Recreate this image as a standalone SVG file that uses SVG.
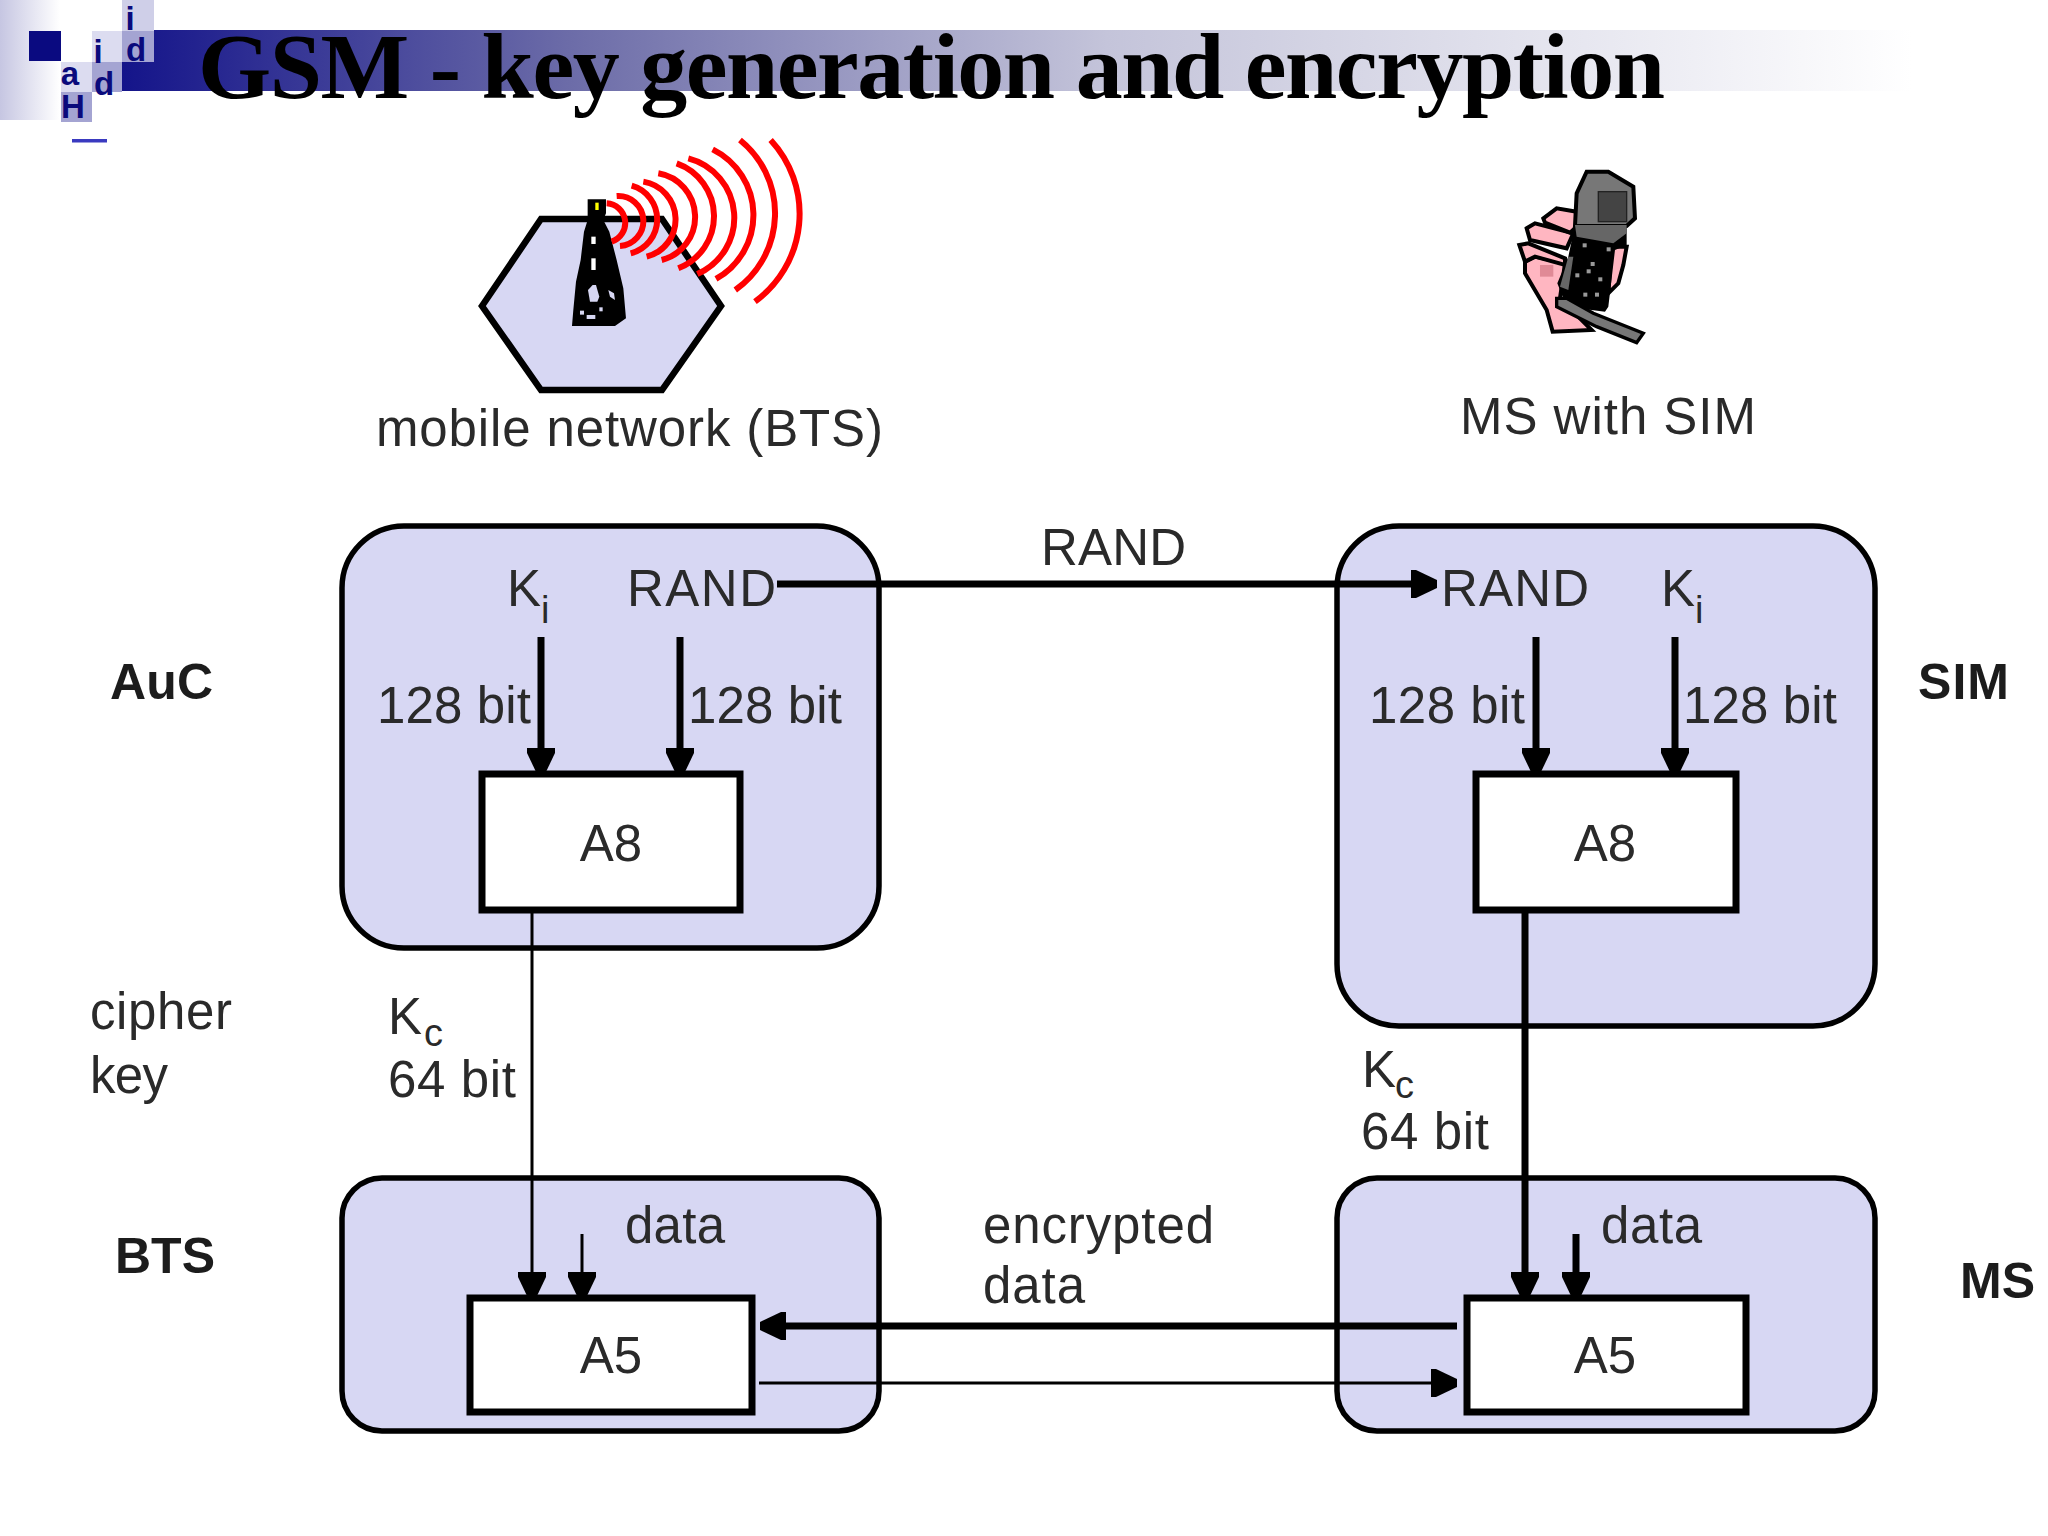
<svg xmlns="http://www.w3.org/2000/svg" width="2048" height="1536" viewBox="0 0 2048 1536">
<style>
text{font-family:"Liberation Sans",Arial,sans-serif;font-size:51px;fill:#2a2a2a}
.b{font-weight:bold;fill:#1c1c1c;font-size:50px}
.s{font-size:38px}
.c{text-anchor:middle}
.h{font-weight:bold;font-size:33px;fill:#0a0a7c;text-anchor:middle}
.box{fill:#d7d7f3;stroke:#000;stroke-width:5.5}
.alg{fill:#fff;stroke:#000;stroke-width:7}
.thick{stroke:#000;stroke-width:7;fill:none}
.thin{stroke:#000;stroke-width:3;fill:none}
.arc{stroke:#f00;stroke-width:18;fill:none}
.ol{stroke:#000;stroke-width:12;stroke-linejoin:miter}
</style>
<defs>
<linearGradient id="bar"><stop offset="0" stop-color="#14148a"/><stop offset=".25" stop-color="#6c6ca8"/><stop offset=".55" stop-color="#c4c4da"/><stop offset="1" stop-color="#fff"/></linearGradient>
<linearGradient id="fade"><stop offset="0" stop-color="#c6c6e2"/><stop offset="1" stop-color="#fff"/></linearGradient>
<marker id="ah" markerUnits="userSpaceOnUse" markerWidth="30" markerHeight="30" refX="26" refY="14" orient="auto"><path d="M0 0L5 0L26 10L26 18L5 28L0 28Z" fill="#000"/></marker>
</defs>
<rect width="2048" height="1536" fill="#fff"/>
<g id="header">
<rect x="0" y="0" width="60" height="120" fill="url(#fade)"/>
<rect x="122" y="30" width="1790" height="61" fill="url(#bar)"/>
<rect x="29" y="31" width="32" height="30" fill="#0a0a80"/>
<rect x="122" y="0" width="32" height="31" fill="#cfcfe8"/>
<rect x="122" y="31" width="32" height="31" fill="#a4a4d2"/>
<rect x="92" y="31" width="30" height="31" fill="#dcdcf0"/>
<rect x="92" y="62" width="30" height="30" fill="#a4a4d2"/>
<rect x="61" y="62" width="31" height="30" fill="#dcdcf0"/>
<rect x="61" y="92" width="31" height="30" fill="#a4a4d2"/>
<text class="h" x="130" y="30">i</text>
<text class="h" x="136" y="61">d</text>
<text class="h" x="98" y="63">i</text>
<text class="h" x="104" y="95">d</text>
<text class="h" x="70" y="85">a</text>
<text class="h" x="73" y="118">H</text>
<rect x="72" y="139" width="35" height="3.5" fill="#3a3ac0"/>
<text x="198" y="98" textLength="1467" style="font-family:'Liberation Serif',serif;font-weight:bold;font-size:94px;fill:#000">GSM - key generation and encryption</text>
</g>
<g id="bts-icon">
<polygon points="482,306 541,219 662,219 721,306 662,390 541,390" fill="#d7d7f3" stroke="#000" stroke-width="6.5"/>
<g transform="translate(460 120) scale(.3333)">
<polygon points="383,238 438,238 438,280 430,300 448,335 470,420 490,505 498,595 465,618 336,618 340,570 348,485 362,420 372,335 383,300" fill="#000"/>
<rect x="406" y="248" width="10" height="22" fill="#ff0"/>
<rect x="394" y="350" width="13" height="22" fill="#fff"/>
<rect x="394" y="415" width="13" height="35" fill="#fff"/>
<polygon points="398,495 408,495 418,530 412,545 390,545 384,510" fill="#d7d7f3"/>
<polygon points="445,510 462,520 465,540 450,530" fill="#d7d7f3"/>
<rect x="380" y="585" width="26" height="12" fill="#d7d7f3"/>
<rect x="360" y="572" width="12" height="12" fill="#d7d7f3"/>
<rect x="418" y="562" width="10" height="12" fill="#d7d7f3"/>
<path class="arc" d="M440 250A59 59 0 0 1 455 365M470 228A75 75 0 0 1 480 378M515 197A105 105 0 0 1 512 400M550 185A115 115 0 0 1 560 410M595 160A133 133 0 0 1 605 420M650 130A168 168 0 0 1 655 445M685 115A184 184 0 0 1 712 462M758 88A220 220 0 0 1 768 477M840 60A282 282 0 0 1 826 510M932 60A326 326 0 0 1 885 545"/>
</g>
</g>
<g id="phone-icon" transform="translate(1480 150) scale(.3333)">
<polygon class="ol" points="135,335 165,320 255,340 240,445 335,540 218,545 200,480 135,370" fill="#ffb6c1"/>
<polygon class="ol" points="118,285 145,280 255,325 255,345 165,320 135,335" fill="#ffb6c1"/>
<polygon class="ol" points="140,235 165,220 280,250 260,295 150,270" fill="#ffb6c1"/>
<polygon class="ol" points="190,205 230,175 290,185 290,230 270,248 195,218" fill="#ffb6c1"/>
<polygon class="ol" points="395,290 440,290 430,345 415,400 385,430" fill="#ffb6c1"/>
<rect x="180" y="345" width="40" height="35" fill="#e08a96"/>
<polygon class="ol" points="290,130 320,65 385,65 460,110 465,205 440,228 285,228" fill="#777"/>
<rect x="355" y="125" width="85" height="90" fill="#444" stroke="#222" stroke-width="4"/>
<polygon points="285,225 440,225 440,285 405,300 385,470 375,485 260,470 232,400 265,320" fill="#000"/>
<polygon points="285,225 440,225 440,250 400,280 290,260" fill="#666"/>
<polygon points="265,320 280,320 265,420 240,410" fill="#666"/>
<polygon points="230,445 260,445 340,490 490,550 470,578 350,530 230,470" fill="#777" stroke="#000" stroke-width="10"/>
<g fill="#999"><rect x="308" y="280" width="12" height="12"/><rect x="380" y="292" width="12" height="12"/><rect x="332" y="336" width="12" height="12"/><rect x="286" y="370" width="12" height="12"/><rect x="320" y="358" width="12" height="12"/><rect x="355" y="382" width="12" height="12"/><rect x="310" y="428" width="12" height="12"/><rect x="345" y="428" width="12" height="12"/></g>
</g>
<g id="auc">
<rect class="box" x="342" y="526" width="537" height="422" rx="62"/>
<rect class="alg" x="482" y="774" width="258" height="136"/>
<text x="507" y="606">K</text><text class="s" x="541" y="623">i</text>
<text x="627" y="606" textLength="149">RAND</text>
<text x="377" y="723" textLength="154">128 bit</text>
<text x="688" y="723" textLength="154">128 bit</text>
<text class="c" x="611" y="861">A8</text>
</g>
<g id="sim">
<rect class="box" x="1337" y="526" width="538" height="500" rx="62"/>
<rect class="alg" x="1476" y="774" width="260" height="136"/>
<text x="1441" y="606" textLength="148">RAND</text>
<text x="1661" y="606">K</text><text class="s" x="1695" y="623">i</text>
<text x="1369" y="723" textLength="156">128 bit</text>
<text x="1683" y="723" textLength="154">128 bit</text>
<text class="c" x="1605" y="861">A8</text>
</g>
<g id="bts">
<rect class="box" x="342" y="1178" width="537" height="253" rx="40"/>
<rect class="alg" x="470" y="1298" width="282" height="114"/>
<text x="625" y="1243" textLength="100">data</text>
<text class="c" x="611" y="1373">A5</text>
</g>
<g id="ms">
<rect class="box" x="1337" y="1178" width="538" height="253" rx="40"/>
<rect class="alg" x="1467" y="1298" width="279" height="114"/>
<text x="1601" y="1243" textLength="101">data</text>
<text class="c" x="1605" y="1373">A5</text>
</g>
<g id="labels">
<text x="376" y="446" textLength="507">mobile network (BTS)</text>
<text x="1460" y="434" textLength="296">MS with SIM</text>
<text x="1041" y="565" textLength="145">RAND</text>
<text class="b" x="110" y="699" textLength="103">AuC</text>
<text class="b" x="1918" y="699" textLength="91">SIM</text>
<text class="b" x="115" y="1273" textLength="100">BTS</text>
<text class="b" x="1960" y="1298" textLength="75">MS</text>
<text x="90" y="1029" textLength="142">cipher</text>
<text x="90" y="1093" textLength="78">key</text>
<text x="388" y="1034">K</text><text class="s" x="424" y="1046">c</text>
<text x="388" y="1097" textLength="128">64 bit</text>
<text x="1362" y="1087">K</text><text class="s" x="1395" y="1098">c</text>
<text x="1361" y="1149" textLength="128">64 bit</text>
<text x="983" y="1243" textLength="231">encrypted</text>
<text x="983" y="1303" textLength="102">data</text>
</g>
<g id="connectors">
<path class="thick" marker-end="url(#ah)" d="M777 584H1437"/>
<path class="thick" marker-end="url(#ah)" d="M541 637V774"/>
<path class="thick" marker-end="url(#ah)" d="M680 637V774"/>
<path class="thick" marker-end="url(#ah)" d="M1536 637V774"/>
<path class="thick" marker-end="url(#ah)" d="M1675 637V774"/>
<path class="thin" marker-end="url(#ah)" d="M532 910V1298"/>
<path class="thin" marker-end="url(#ah)" d="M582 1234V1298"/>
<path class="thick" marker-end="url(#ah)" d="M1525 910V1298"/>
<path class="thick" marker-end="url(#ah)" d="M1576 1234V1298"/>
<path class="thick" marker-end="url(#ah)" d="M1457 1326H760"/>
<path class="thin" marker-end="url(#ah)" d="M759 1383H1457"/>
</g>
</svg>
